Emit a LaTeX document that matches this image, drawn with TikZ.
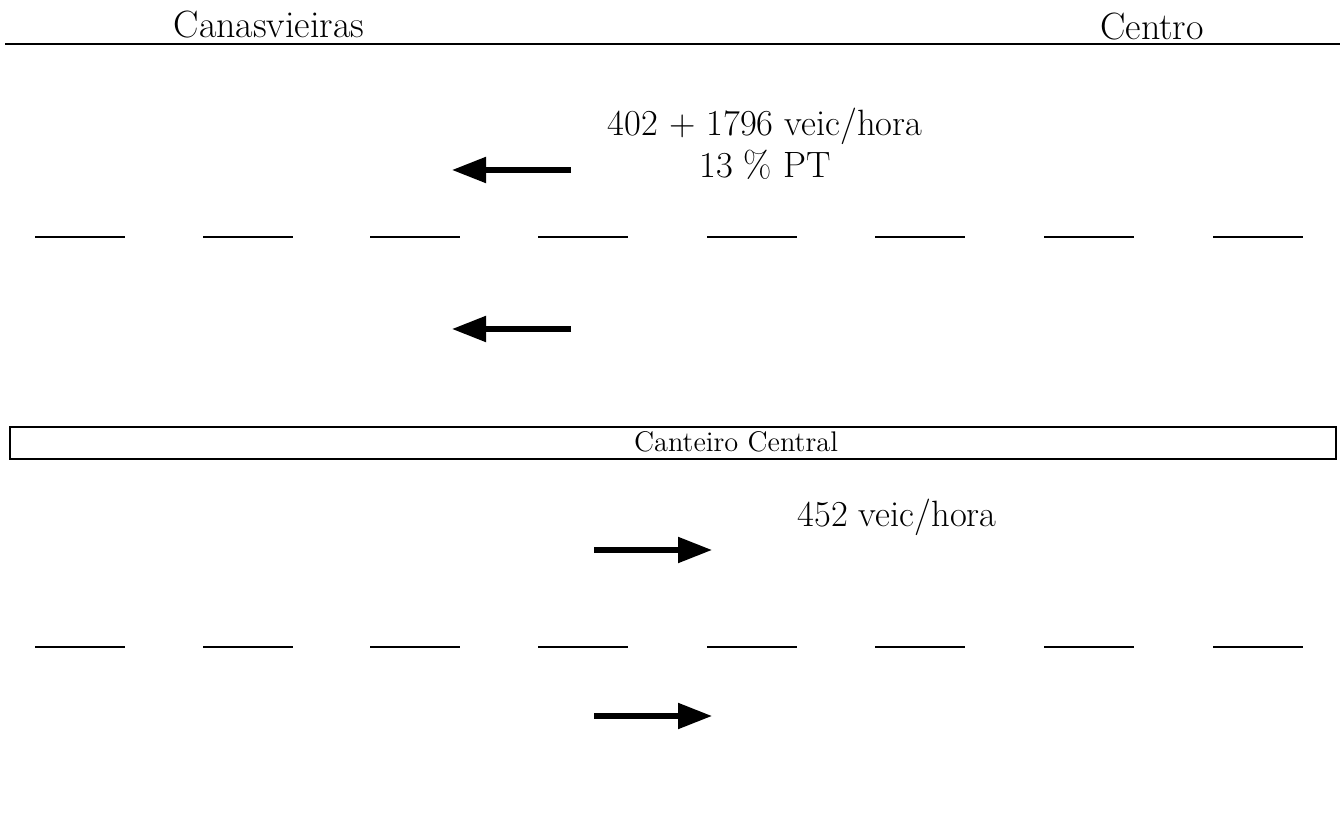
\documentclass[tikz,border=0pt]{standalone}
\usetikzlibrary{arrows.meta}

\tikzset{
  lane/.style={line width=1.2pt},
  flow/.style={line width=2.6pt, -{Triangle[length=17pt, width=12.5pt]}},
  place/.style={font=\fontsize{19}{22}\selectfont, inner sep=0pt},
  volume/.style={font=\fontsize{18.3}{21}\selectfont, inner sep=0pt, align=center}
}

\begin{document}
\begin{tikzpicture}[x=0.5pt,y=-0.5pt]
\useasboundingbox (0,0) rectangle (1343,838);
% road edge and destinations
\draw[lane] (5,44) -- (1340,44);
\node[place] (canas) at (269,25) {Canasvieiras};
\node[place] (centro) at (1152,27) {Centro};
% lane markings
\foreach \x in {35,203,370,538,707,875,1044,1213} {
  \draw[lane] (\x,237) -- ++(90,0);
  \draw[lane] (\x,647) -- ++(90,0);
}
% median
\draw[lane] (10,427) rectangle (1336,459);
\node[font=\fontsize{14.2}{16}\selectfont, inner sep=0pt] (canteiro) at (736,442) {Canteiro Central};
% flows towards Canasvieiras
\node[volume] (volA) at (765,144) {402 + 1796 veic/hora\\13 \% PT};
\coordinate (a1) at (571,170);
\coordinate (a2) at (452,170);
\coordinate (b1) at (571,329);
\coordinate (b2) at (452,329);
\draw[flow] (a1) -- (a2);
\draw[flow] (b1) -- (b2);
% flows towards Centro
\node[volume] (volB) at (897,517) {452 veic/hora};
\coordinate (c1) at (594,550);
\coordinate (c2) at (712,550);
\coordinate (d1) at (594,716);
\coordinate (d2) at (712,716);
\draw[flow] (c1) -- (c2);
\draw[flow] (d1) -- (d2);
\end{tikzpicture}
\end{document}
